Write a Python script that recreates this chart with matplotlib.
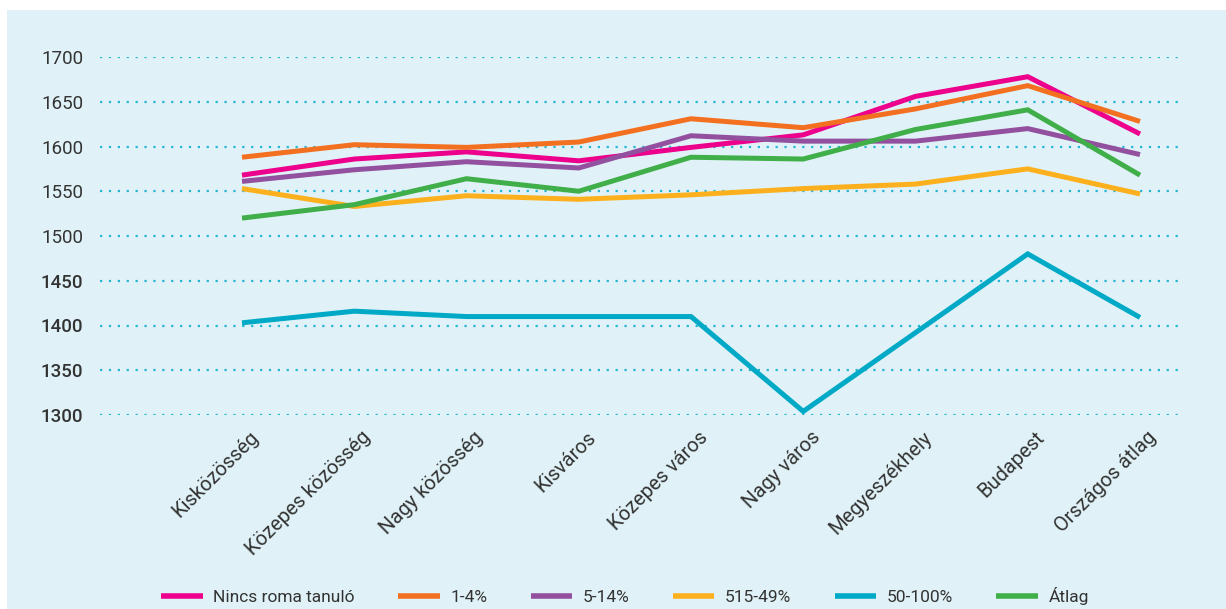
import matplotlib.pyplot as plt
from matplotlib.patches import Rectangle
from matplotlib.transforms import ScaledTranslation

plt.rcParams['font.family'] = ['Roboto', 'DejaVu Sans']

categories = ["Kisközösség", "Közepes közösség", "Nagy közösség", "Kisváros",
              "Közepes város", "Nagy város", "Megyeszékhely", "Budapest",
              "Országos átlag"]

nincs_roma = [1568, 1586, 1594, 1584, 1599, 1613, 1656, 1678, 1614]
p1_4 = [1588, 1602, 1599, 1605, 1631, 1621, 1642, 1668, 1628]
p5_14 = [1561, 1574, 1583, 1576, 1612, 1606, 1606, 1620, 1591]
p15_49 = [1553, 1533, 1545, 1541, 1546, 1553, 1558, 1575, 1547]
p50_100 = [1403, 1416, 1410, 1410, 1410, 1304, 1392, 1480, 1409]
atlag = [1520, 1535, 1564, 1550, 1588, 1586, 1619, 1641, 1568]

series = [
    ("Nincs roma tanuló", nincs_roma, "#EC008C"),
    ("1-4%", p1_4, "#F37021"),
    ("5-14%", p5_14, "#92509F"),
    ("515-49%", p15_49, "#FDB01D"),
    ("50-100%", p50_100, "#00A9C6"),
    ("Átlag", atlag, "#40AE49"),
]

yticks = [1300, 1350, 1400, 1450, 1500, 1550, 1600, 1650, 1700]

bg = "#E0F2F7"
fig = plt.figure(figsize=(12.26, 6.09), dpi=100, facecolor="white")
fig.patches.append(Rectangle((7 / 1226, 0), 1, 1 - 10 / 609, transform=fig.transFigure,
                             facecolor=bg, edgecolor="none", zorder=-10))

ax = fig.add_axes([100 / 1226, 1 - 415 / 609, 1080 / 1226, 358 / 609])
ax.set_facecolor("none")

x = list(range(len(categories)))
for name, vals, col in series:
    ax.plot(x, vals, color=col, lw=3.6, label=name, clip_on=False,
            solid_joinstyle="miter", solid_capstyle="butt")

ax.set_xlim(-142 / 112.25, 8 + 40 / 112.25)
ax.set_ylim(1300, 1700)
ax.set_yticks(yticks)
ax.set_yticklabels([str(v) for v in yticks], fontsize=13.5, color="#333333")
for lab in ax.get_yticklabels():
    if int(lab.get_text()) <= 1450:
        lab.set_fontweight("medium")
ax.yaxis.grid(True, color="#23B5D3", linestyle=(0, (1, 3)), lw=1.6)
ax.set_axisbelow(True)
ax.tick_params(axis="y", length=0, pad=12)
ax.tick_params(axis="x", length=0, pad=9)
for s in ax.spines.values():
    s.set_visible(False)

ax.set_xticks(x)
ax.set_xticklabels(categories, rotation=45, ha="right", va="top",
                   rotation_mode="anchor", fontsize=14.5, color="#333333")
offset = ScaledTranslation(7 / 100, 0, fig.dpi_scale_trans)
for lab in ax.get_xticklabels():
    lab.set_transform(lab.get_transform() + offset)

leg = fig.legend(loc="center", bbox_to_anchor=(625 / 1226, 1 - 596 / 609), ncol=6,
                 frameon=False, fontsize=12.5, handlelength=2.4, handletextpad=0.6,
                 columnspacing=2.5)
for t in leg.get_texts():
    t.set_color("#333333")
for h in leg.get_lines():
    h.set_linewidth(4)

fig.savefig("out.png", dpi=100, facecolor=fig.get_facecolor())
